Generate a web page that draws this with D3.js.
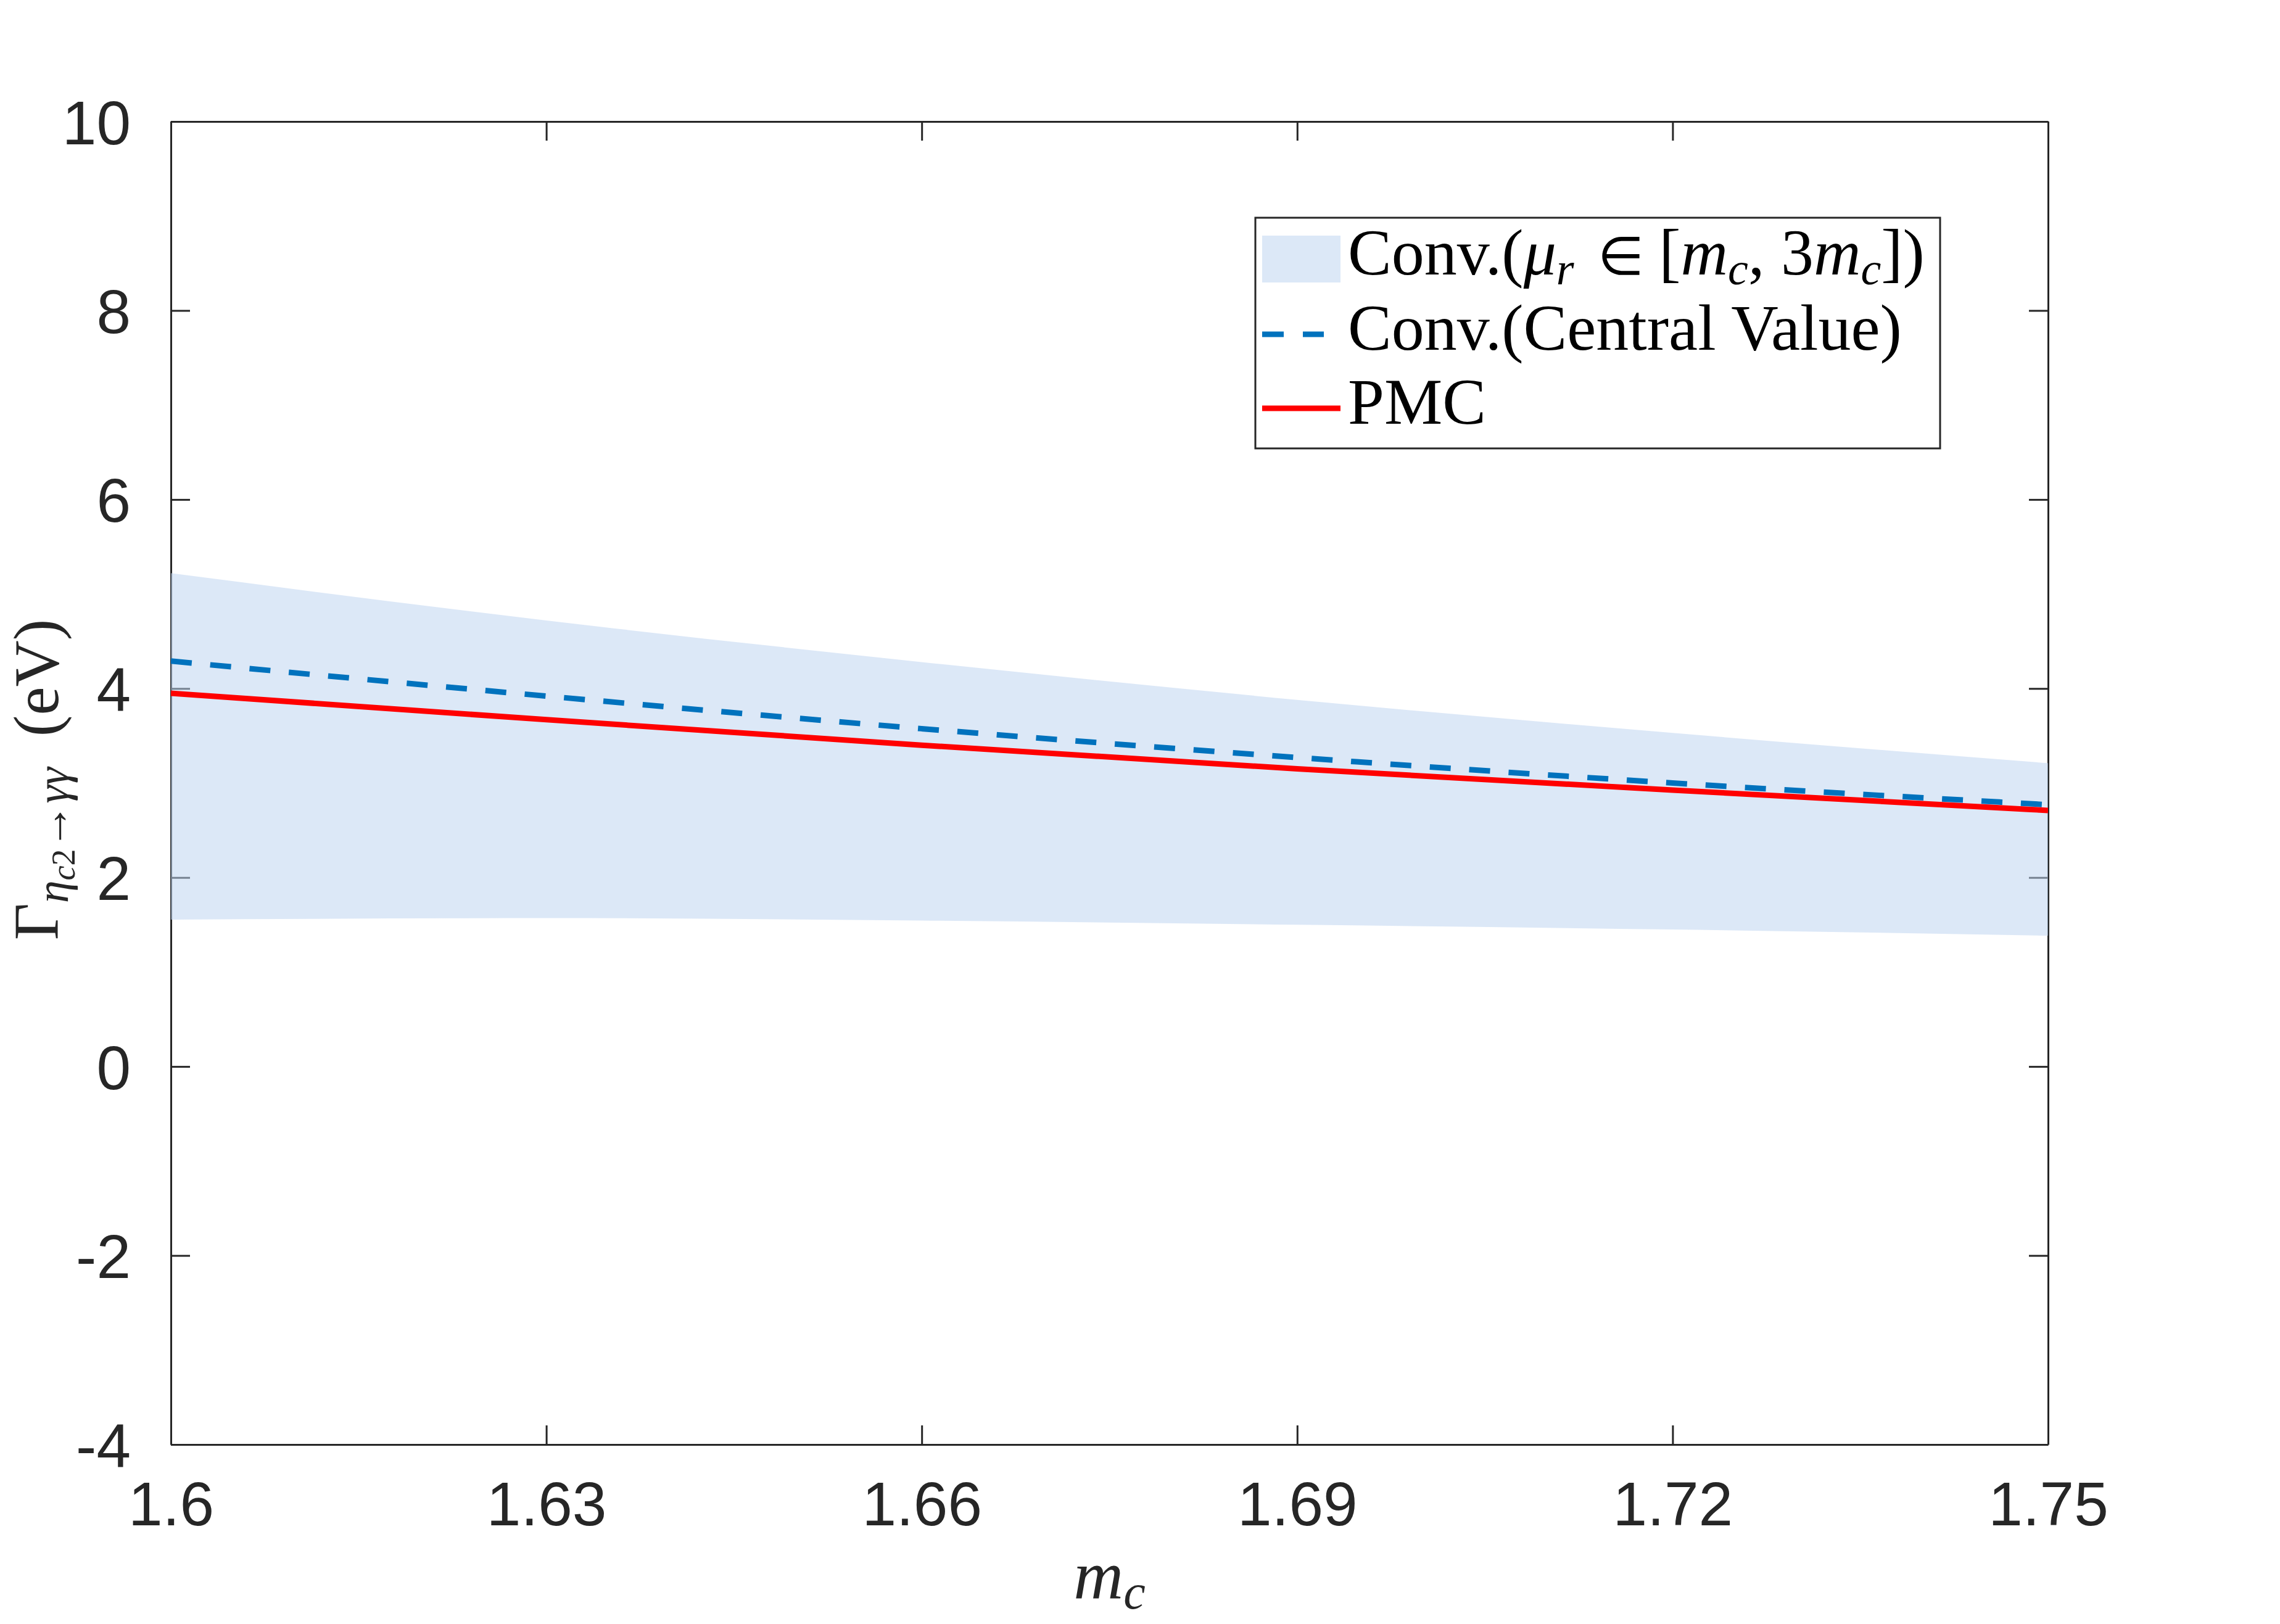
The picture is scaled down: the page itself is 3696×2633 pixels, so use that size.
<!DOCTYPE html>
<html>
<head>
<meta charset="utf-8">
<script src="https://cdn.jsdelivr.net/npm/d3@7"></script>
<style>
  html, body { margin: 0; padding: 0; background: #ffffff; }
  svg { display: block; }
</style>
</head>
<body>
<script>
// ---------------- data ----------------
const mcValues     = [1.60, 1.63, 1.66, 1.69, 1.72, 1.75];
const convUpper    = [5.22, 4.72, 4.28, 3.88, 3.53, 3.21];
const convLower    = [1.555, 1.57, 1.545, 1.50, 1.45, 1.385];
const convCentral  = [4.29, 3.92, 3.575, 3.27, 3.00, 2.77];
const pmcValues    = [3.95, 3.67, 3.40, 3.15, 2.925, 2.71];

const xTickValues  = [1.6, 1.63, 1.66, 1.69, 1.72, 1.75];
const xTickLabels  = ["1.6", "1.63", "1.66", "1.69", "1.72", "1.75"];
const yTickValues  = [-4, -2, 0, 2, 4, 6, 8, 10];
const yTickLabels  = ["-4", "-2", "0", "2", "4", "6", "8", "10"];

const legendLabels = ["band", "central", "pmc"];

// ---------------- layout ----------------
const W = 3696, H = 2633;
const L = 277, R = 3320, T = 197, B = 2342;
const axisColor = "#262626";
const bandFill = "rgb(189,212,240)";
const bandOpacity = 0.535;
const blue = "#0072BD";
const red = "#FF0000";

const svg = d3.select("body").append("svg")
  .attr("width", W).attr("height", H)
  .attr("viewBox", `0 0 ${W} ${H}`);

svg.append("rect").attr("width", W).attr("height", H).attr("fill", "#fff");

const x = d3.scaleLinear().domain([1.6, 1.75]).range([L, R]);
const y = d3.scaleLinear().domain([-4, 10]).range([B, T]);

const rows = mcValues.map((m, i) => ({
  m, up: convUpper[i], lo: convLower[i], c: convCentral[i], p: pmcValues[i]
}));

// ---------------- axes (box + inward ticks) ----------------
const tickLen = 31;
const fontSans = "'Liberation Sans', Arial, Helvetica, sans-serif";
const fontSerif = "'Liberation Serif', 'Times New Roman', serif";

const gAxes = svg.append("g");

const xAxisB = d3.axisBottom(x).tickValues(xTickValues)
  .tickSizeInner(-tickLen).tickSizeOuter(0)
  .tickFormat((d, i) => xTickLabels[i]).tickPadding(60);
const gxb = gAxes.append("g").attr("transform", `translate(0,${B})`).call(xAxisB);
const xAxisT = d3.axisTop(x).tickValues(xTickValues)
  .tickSizeInner(-tickLen).tickSizeOuter(0).tickFormat("");
const gxt = gAxes.append("g").attr("transform", `translate(0,${T})`).call(xAxisT);
const yAxisL = d3.axisLeft(y).tickValues(yTickValues)
  .tickSizeInner(-tickLen).tickSizeOuter(0)
  .tickFormat((d, i) => yTickLabels[i]).tickPadding(65);
const gyl = gAxes.append("g").attr("transform", `translate(${L},0)`).call(yAxisL);
const yAxisR = d3.axisRight(y).tickValues(yTickValues)
  .tickSizeInner(-tickLen).tickSizeOuter(0).tickFormat("");
const gyr = gAxes.append("g").attr("transform", `translate(${R},0)`).call(yAxisR);

[gxb, gxt, gyl, gyr].forEach(g => {
  g.select(".domain").attr("stroke", axisColor).attr("stroke-width", 3);
  g.selectAll(".tick line").attr("stroke", axisColor).attr("stroke-width", 3);
  g.selectAll(".tick text")
    .attr("fill", axisColor)
    .style("font-family", fontSans)
    .style("font-size", "100px");
});
gxb.selectAll(".tick text").attr("dy", "0.71em");
gyl.selectAll(".tick text").attr("dy", "0.36em");

// ---------------- plot content ----------------
svg.append("defs").append("clipPath").attr("id", "clip")
  .append("rect").attr("x", L).attr("y", T).attr("width", R - L).attr("height", B - T);

const plot = svg.append("g").attr("clip-path", "url(#clip)");

const curve = d3.curveMonotoneX;

const area = d3.area()
  .x(d => x(d.m)).y0(d => y(d.lo)).y1(d => y(d.up)).curve(curve);
plot.append("path").datum(rows)
  .attr("d", area)
  .attr("fill", bandFill).attr("fill-opacity", bandOpacity);

const lineC = d3.line().x(d => x(d.m)).y(d => y(d.c)).curve(curve);
plot.append("path").datum(rows)
  .attr("d", lineC)
  .attr("fill", "none").attr("stroke", blue)
  .attr("stroke-width", 9).attr("stroke-dasharray", "34,30");

const lineP = d3.line().x(d => x(d.m)).y(d => y(d.p)).curve(curve);
plot.append("path").datum(rows)
  .attr("d", lineP)
  .attr("fill", "none").attr("stroke", red).attr("stroke-width", 9);

// ---------------- axis labels ----------------
const xl = svg.append("text")
  .attr("x", (L + R) / 2).attr("y", 2592)
  .attr("text-anchor", "middle")
  .style("font-family", fontSerif).attr("fill", axisColor);
xl.append("tspan").style("font-style", "italic").style("font-size", "112px").text("m");
xl.append("tspan").style("font-style", "italic").style("font-size", "80px")
  .attr("dy", 16).text("c");

const yl = svg.append("text")
  .attr("transform", `translate(94,1264) rotate(-90)`)
  .attr("text-anchor", "middle")
  .style("font-family", fontSerif).attr("fill", axisColor);
yl.append("tspan").style("font-size", "104px").text("Γ");
yl.append("tspan").style("font-size", "74px").style("font-style", "italic")
  .attr("dy", 16).text("η");
yl.append("tspan").style("font-size", "54px").style("font-style", "italic")
  .attr("dy", 11).text("c");
yl.append("tspan").style("font-size", "54px").text("2");
yl.append("tspan").style("font-size", "74px").attr("dy", -11).text("→");
yl.append("tspan").style("font-size", "74px").style("font-style", "italic").text("γγ");
yl.append("tspan").style("font-size", "104px").attr("dy", -16).attr("dx", 50).text("(eV)");

// ---------------- legend ----------------
const lg = svg.append("g");
const lgX0 = 2035, lgY0 = 353, lgX1 = 3145, lgY1 = 727;
lg.append("rect")
  .attr("x", lgX0).attr("y", lgY0)
  .attr("width", lgX1 - lgX0).attr("height", lgY1 - lgY0)
  .attr("fill", "#fff").attr("stroke", axisColor).attr("stroke-width", 3);

const symX0 = 2046, symX1 = 2173, textX = 2185;
const rowBase = [445, 567, 687];

legendLabels.forEach((key, i) => {
  const g = lg.append("g");
  if (key === "band") {
    g.append("rect").attr("x", symX0).attr("y", 382)
      .attr("width", symX1 - symX0).attr("height", 76)
      .attr("fill", bandFill).attr("fill-opacity", bandOpacity);
  } else if (key === "central") {
    g.append("line").attr("x1", symX0).attr("x2", symX1 - 27)
      .attr("y1", 542).attr("y2", 542)
      .attr("stroke", blue).attr("stroke-width", 9)
      .attr("stroke-dasharray", "35,31");
  } else {
    g.append("line").attr("x1", symX0).attr("x2", symX1)
      .attr("y1", 662).attr("y2", 662)
      .attr("stroke", red).attr("stroke-width", 9);
  }
});

function legendText(i) {
  return lg.append("text").attr("x", textX).attr("y", rowBase[i])
    .style("font-family", fontSerif).style("font-size", "106px")
    .attr("fill", "#000");
}
const t1 = legendText(0);
t1.append("tspan").text("Conv.(");
t1.append("tspan").style("font-style", "italic").text("μ");
t1.append("tspan").style("font-style", "italic").style("font-size", "74px").attr("dy", 16).text("r");
t1.append("tspan").attr("dy", -16).text(" ");
t1.append("tspan").style("font-size", "86px").attr("dx", 12).text("∈");
t1.append("tspan").attr("dx", 24).text("[");
t1.append("tspan").style("font-style", "italic").text("m");
t1.append("tspan").style("font-style", "italic").style("font-size", "74px").attr("dy", 16).text("c");
t1.append("tspan").attr("dy", -16).text(", 3");
t1.append("tspan").style("font-style", "italic").text("m");
t1.append("tspan").style("font-style", "italic").style("font-size", "74px").attr("dy", 16).text("c");
t1.append("tspan").attr("dy", -16).text("])");
legendText(1).text("Conv.(Central Value)");
legendText(2).text("PMC");
</script>
</body>
</html>
